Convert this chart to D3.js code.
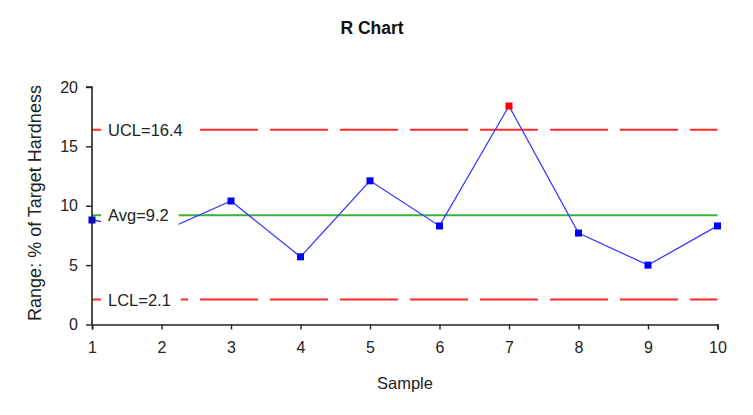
<!DOCTYPE html>
<html>
<head>
<meta charset="utf-8">
<script src="https://cdn.jsdelivr.net/npm/d3@7"></script>
<style>
  html, body { margin: 0; padding: 0; background: #fff; }
  svg { display: block; font-family: Arial, "Liberation Sans", sans-serif; }
</style>
</head>
<body>
<svg id="chart" width="753" height="415"></svg>
<script>
// ---- data ----
const samples = [1, 2, 3, 4, 5, 6, 7, 8, 9, 10];
const ranges = [8.8, 7.8, 10.4, 5.7, 12.1, 8.3, 18.4, 7.7, 5.0, 8.3];
const ucl = 16.4;
const avg = 9.2;
const lcl = 2.1;
const yTicks = [0, 5, 10, 15, 20];
const controlLabels = ["UCL=16.4", "Avg=9.2", "LCL=2.1"];
const controlValues = [ucl, avg, lcl];

// ---- layout ----
const svg = d3.select("#chart");
const x = d3.scaleLinear().domain([1, 10]).range([92, 717.5]);
const y = d3.scaleLinear().domain([0, 20]).range([324.5, 87]);
const textColor = "#222";

// title
svg.append("text").attr("x", 372).attr("y", 34).attr("text-anchor", "middle")
  .attr("font-size", 17.5).attr("font-weight", "bold").attr("fill", "#111").text("R Chart");

// control lines
const ctrl = svg.append("g");
[ucl, lcl].forEach(v => {
  ctrl.append("line").attr("x1", x(1)).attr("x2", x(10)).attr("y1", y(v)).attr("y2", y(v))
    .attr("stroke", "#ff2a2a").attr("stroke-width", 2)
    .attr("stroke-dasharray", "58,12").attr("stroke-dashoffset", 32);
});
ctrl.append("line").attr("x1", x(1)).attr("x2", x(10)).attr("y1", y(avg)).attr("y2", y(avg))
  .attr("stroke", "#3cb03c").attr("stroke-width", 2);

// data line
svg.append("path").datum(ranges)
  .attr("fill", "none").attr("stroke", "#3a3aff").attr("stroke-width", 1.3)
  .attr("d", d3.line().x((d, i) => x(samples[i])).y(d => y(d)));

// markers
svg.selectAll("rect.pt").data(ranges).enter().append("rect").attr("class", "pt")
  .attr("x", (d, i) => x(samples[i]) - 3.5).attr("y", d => y(d) - 3.5)
  .attr("width", 7).attr("height", 7)
  .attr("fill", d => (d > ucl || d < lcl) ? "#ff0000" : "#0000ff");

// control labels with white background
controlLabels.forEach((lab, i) => {
  const g = svg.append("g");
  const t = g.append("text").attr("x", 108).attr("y", y(controlValues[i]))
    .attr("dy", "0.36em").attr("font-size", 16.5).attr("fill", textColor).text(lab);
  const bb = t.node().getBBox();
  g.insert("rect", "text").attr("x", 101).attr("y", bb.y - 10)
    .attr("width", bb.x + bb.width + 10 - 101).attr("height", bb.height + 28).attr("fill", "#fff");
});

// axes
const yAxis = svg.append("g").attr("transform", `translate(${x(1)},0)`)
  .call(d3.axisLeft(y).tickValues(yTicks).tickSize(6).tickPadding(8));
const xAxis = svg.append("g").attr("transform", `translate(0,${y(0)})`)
  .call(d3.axisBottom(x).tickValues(samples).tickFormat(d3.format("d")).tickSize(5).tickPadding(12));
[yAxis, xAxis].forEach(a => {
  a.select(".domain").attr("stroke", "#222").attr("stroke-width", 1.6);
  a.selectAll(".tick line").attr("stroke", "#222").attr("stroke-width", 1.4);
  a.selectAll(".tick text").attr("font-size", 16).attr("fill", textColor)
    .attr("font-family", "Arial, 'Liberation Sans', sans-serif");
});
yAxis.select(".domain").attr("d", `M-6,${y(20)}H0V${y(0)}`);

// axis titles
svg.append("text").attr("x", 405).attr("y", 389).attr("text-anchor", "middle")
  .attr("font-size", 16.5).attr("fill", textColor).text("Sample");
svg.append("text").attr("transform", `translate(41,203) rotate(-90)`)
  .attr("text-anchor", "middle").attr("font-size", 18).attr("fill", textColor)
  .text("Range: % of Target Hardness");
</script>
</body>
</html>
